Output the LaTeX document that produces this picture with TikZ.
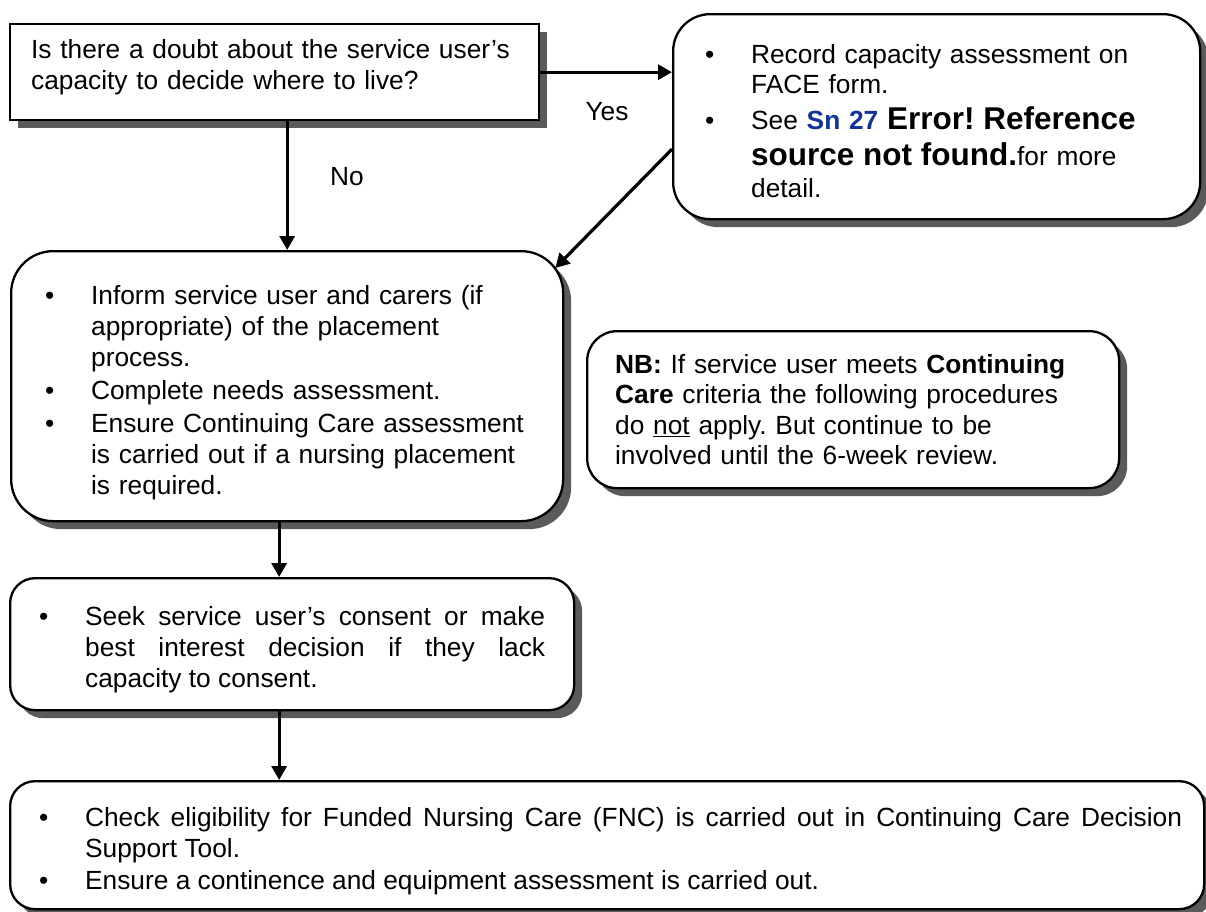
\documentclass[tikz,border=0pt]{standalone}
\usepackage{fontspec}
\setmainfont{Liberation Sans}
\usetikzlibrary{arrows.meta,shadows}

\definecolor{shadowgray}{HTML}{5A5A5A}
\definecolor{snblue}{HTML}{12349A}

\newcommand{\bodyfont}{\fontsize{26.3}{31}\selectfont\tolerance=9999\frenchspacing}
\newcommand{\bitem}{\par\noindent\hangindent=46pt\hangafter=1\makebox[46pt][l]{\textbullet}}
\newcommand{\nl}[1][0pt]{\hfil\vadjust{\vskip#1}\break}

\begin{document}
\begin{tikzpicture}[x=1pt,y=-1pt,
    stepbox/.style={draw, line width=2.3pt, fill=white, anchor=north west,
      inner ysep=0pt, font=\bodyfont, align=left,
      drop shadow={shadow xshift=8pt,shadow yshift=-8pt,fill=shadowgray,opacity=1}},
    arrow/.style={line width=3.2pt,-{Triangle[length=14pt,width=15pt]}},
    lbl/.style={font=\bodyfont, inner sep=0pt}]

    \useasboundingbox (0,0) rectangle (1206,911);

    % Question
    \node[stepbox, minimum width=529pt, minimum height=96pt, inner xsep=21pt, text width=487pt] (qbox) at (9,23)
      {Is there a doubt about the service user’s\nl capacity to decide where to live?\rule[-15pt]{0pt}{15pt}\par};

    % Yes branch
    \node[stepbox, rounded corners=37pt, minimum width=527pt, minimum height=205pt, inner xsep=32pt, text width=463pt] (recbox) at (672,13)
      {\fontsize{26.3}{30}\selectfont\setlength{\parskip}{6pt}%
       \bitem Record capacity assessment on\nl FACE form.
       \bitem See {\color{snblue}\bfseries Sn 27} {\bfseries\fontsize{31.5}{30}\selectfont Error! Reference\nl[6pt] source not found.}for more\nl[2pt] detail.\rule[-8pt]{0pt}{8pt}\par};

    % Placement process
    \node[stepbox, rounded corners=42pt, minimum width=552pt, minimum height=270pt, inner xsep=34pt, text width=484pt] (infobox) at (10,250)
      {\setlength{\parskip}{2pt}%
       \bitem Inform service user and carers (if\nl appropriate) of the placement\nl process.
       \bitem Complete needs assessment.
       \bitem Ensure Continuing Care assessment\nl is carried out if a nursing placement\nl is required.\par};

    % Note
    \node[stepbox, rounded corners=30pt, minimum width=532pt, minimum height=157pt, inner xsep=28pt, text width=476pt, font=\fontsize{26.3}{30.5}\selectfont\frenchspacing] (nbbox) at (586,330)
      {\textbf{NB:} If service user meets \textbf{Continuing}\nl \textbf{Care} criteria the following procedures\nl do \underline{not} apply. But continue to be\nl involved until the 6-week review.\par};

    % Consent
    \node[stepbox, rounded corners=25pt, minimum width=564pt, minimum height=132pt, inner xsep=29pt, text width=506pt, align=justify] (consentbox) at (9,577)
      {\bitem Seek service user’s consent or make\linebreak best interest decision if they lack\linebreak capacity to consent.\par};

    % Funding
    \node[stepbox, rounded corners=25pt, minimum width=1194pt, minimum height=128pt, inner xsep=22pt, text width=1150pt, align=justify] (fncbox) at (9,780)
      {\leftskip=7pt\setlength{\parskip}{1pt}%
       \bitem Check eligibility for Funded Nursing Care (FNC) is carried out in Continuing Care Decision\linebreak Support Tool.
       \bitem Ensure a continence and equipment assessment is carried out.\par};

    % Connectors
    \draw[arrow] (qbox.east) -- (qbox.east -| recbox.west);
    \draw[arrow] (qbox.south -| infobox.north) -- (infobox.north);
    \draw[arrow] (recbox.187.5) -- ([xshift=-9pt,yshift=-18pt]infobox.north east);
    \draw[arrow] ([xshift=-13pt]consentbox.north |- infobox.south) -- ([xshift=-13pt]consentbox.north);
    \draw[arrow] ([xshift=-13pt]consentbox.south) -- ([xshift=-13pt]consentbox.south |- fncbox.north);

    \node[lbl] (yes) at (607,112) {Yes};
    \node[lbl] (no) at (347,177) {No};
\end{tikzpicture}
\end{document}
